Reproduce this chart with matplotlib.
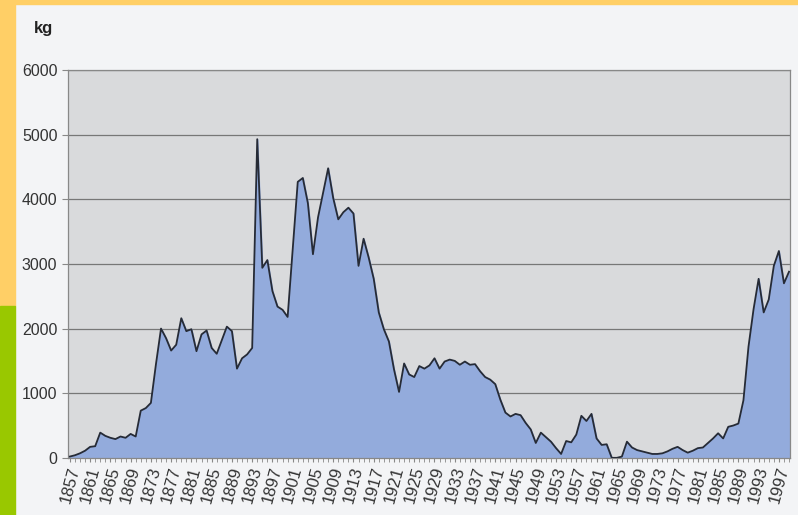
import numpy as np
import matplotlib
matplotlib.use("Agg")
import matplotlib.pyplot as plt
from matplotlib.patches import Rectangle

plt.rcParams["font.family"] = ["Liberation Sans", "DejaVu Sans"]

# annual values, kg, 1857-1999
years = list(range(1857, 2000))
kg = [
    20, 40, 70, 110, 170, 180, 390, 340, 310, 290,          # 1857-1866
    330, 310, 370, 330, 730, 770, 850, 1450, 2000, 1850,    # 1867-1876
    1660, 1750, 2160, 1960, 1990, 1650, 1910, 1970, 1700, 1610,  # 1877-1886
    1820, 2030, 1960, 1380, 1540, 1600, 1700, 4930, 2940, 3060,  # 1887-1896
    2580, 2340, 2290, 2180, 3220, 4270, 4330, 3940, 3150, 3720,  # 1897-1906
    4100, 4480, 4020, 3690, 3800, 3870, 3780, 2970, 3390, 3100,  # 1907-1916
    2770, 2250, 1990, 1800, 1370, 1020, 1460, 1290, 1250, 1420,  # 1917-1926
    1380, 1430, 1540, 1380, 1490, 1520, 1500, 1440, 1490, 1440,  # 1927-1936
    1450, 1340, 1250, 1210, 1140, 900, 700, 640, 680, 660,       # 1937-1946
    540, 440, 230, 390, 320, 250, 150, 60, 260, 240,             # 1947-1956
    360, 650, 570, 680, 300, 200, 210, 0, 0, 20,                 # 1957-1966
    250, 160, 120, 100, 80, 60, 60, 70, 100, 140,                # 1967-1976
    170, 120, 80, 110, 150, 160, 230, 300, 380, 300,             # 1977-1986
    480, 500, 530, 890, 1720, 2300, 2770, 2250, 2450, 2970,      # 1987-1996
    3200, 2700, 2880,                                            # 1997-1999
]
y_ticks = [0, 1000, 2000, 3000, 4000, 5000, 6000]
x_labels = list(range(1857, 2000, 4))

fig = plt.figure(figsize=(7.98, 5.15), dpi=100)
fig.patch.set_facecolor("#f3f4f6")

# scan border: yellow top/left, green lower left
fig.patches.append(Rectangle((0, 0.992), 1, 0.008, transform=fig.transFigure,
                             color="#ffcf66", zorder=0))
fig.patches.append(Rectangle((0, 0.405), 0.019, 0.595, transform=fig.transFigure,
                             color="#ffcf66", zorder=0))
fig.patches.append(Rectangle((0, 0), 0.019, 0.405, transform=fig.transFigure,
                             color="#99c800", zorder=0))

ax = fig.add_axes([0.085, 0.111, 0.905, 0.753])
ax.set_facecolor("#d9dadc")

ax.fill_between(years, kg, 0, color="#93abdc", zorder=2)
ax.plot(years, kg, color="#262b36", lw=1.3, zorder=3)

ax.set_xlim(1856.6, 1999.2)
ax.set_ylim(0, 6000)
ax.set_yticks(y_ticks)
ax.set_yticklabels([str(v) for v in y_ticks], fontsize=11.5, color="#333333")
ax.yaxis.grid(True, color="#777777", lw=0.9)
ax.set_axisbelow(True)

ax.set_xticks(x_labels)
ax.set_xticklabels([str(v) for v in x_labels], rotation=75, fontsize=12,
                   color="#333333", ha="center", va="top")
ax.set_xticks(years, minor=True)
ax.tick_params(axis="x", which="both", length=3, color="#888888", pad=2)
ax.tick_params(axis="y", length=4, color="#888888")

for s in ax.spines.values():
    s.set_color("#888888")
    s.set_linewidth(0.9)

fig.text(0.042, 0.935, "kg", fontsize=12, fontweight="bold", color="#222222")

fig.savefig("out.png", dpi=100, facecolor=fig.get_facecolor())
